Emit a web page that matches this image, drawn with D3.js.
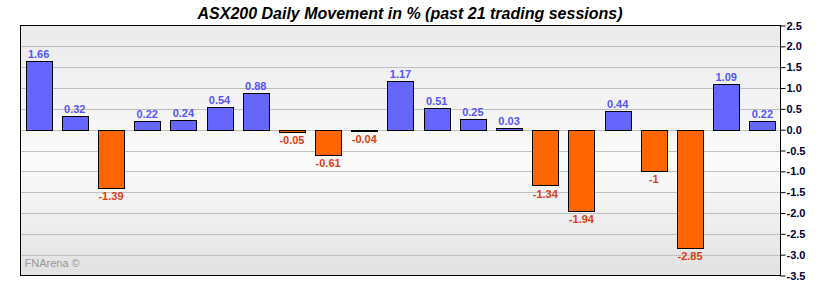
<!DOCTYPE html>
<html>
<head>
<meta charset="utf-8">
<script src="https://cdn.jsdelivr.net/npm/d3@7"></script>
<style>
  body { margin: 0; background: #fff; }
  text { font-family: "Liberation Sans", Arial, sans-serif; }
</style>
</head>
<body>
<script>
    //Data
        const sessions = d3.range(1, 22);
        const moves = [1.66, 0.32, -1.39, 0.22, 0.24, 0.54, 0.88, -0.05, -0.61, -0.04, 1.17,
                       0.51, 0.25, 0.03, -1.34, -1.94, 0.44, -1, -2.85, 1.09, 0.22];
        const tickValues = [2.5, 2.0, 1.5, 1.0, 0.5, 0.0, -0.5, -1.0, -1.5, -2.0, -2.5, -3.0, -3.5];
        const tickLabels = ["2.5", "2.0", "1.5", "1.0", "0.5", "0.0", "-0.5", "-1.0", "-1.5", "-2.0", "-2.5", "-3.0", "-3.5"];
        const title = "ASX200 Daily Movement in % (past 21 trading sessions)";

    //Set up dimensions
        const width = 820;
        const height = 290;
        const plotLeft = 20.5, plotRight = 780.5, plotTop = 25.5, plotBottom = 275.5;

    //Scales
        const xScale = d3.scaleBand()
                        .domain(sessions)
                        .range([plotLeft, plotRight])
                        .paddingInner(0.28)
                        .paddingOuter(0.14);

        const yScale = d3.scaleLinear()
                        .domain([-3.5, 2.5])
                        .range([plotBottom, plotTop]);

    //Make the SVG
        const svg = d3.select("body")
                    .append("svg")
                    .attr("width", width)
                    .attr("height", height);

        const grad = svg.append("defs")
                        .append("linearGradient")
                        .attr("id", "bg")
                        .attr("x1", 0).attr("y1", 0).attr("x2", 0).attr("y2", 1);
        grad.append("stop").attr("offset", "0%").attr("stop-color", "#eaeaea");
        grad.append("stop").attr("offset", "55%").attr("stop-color", "#fbfbfb");
        grad.append("stop").attr("offset", "100%").attr("stop-color", "#e1e1e1");

        svg.append("rect")
            .attr("x", plotLeft)
            .attr("y", plotTop)
            .attr("width", plotRight - plotLeft)
            .attr("height", plotBottom - plotTop)
            .attr("fill", "url(#bg)");

    //Gridlines
        svg.selectAll("line.grid")
            .data(tickValues.slice(1, -1))
            .enter()
            .append("line")
            .attr("class", "grid")
            .attr("x1", plotLeft)
            .attr("x2", plotRight)
            .attr("y1", d => Math.round(yScale(d)) + 0.5)
            .attr("y2", d => Math.round(yScale(d)) + 0.5)
            .attr("stroke", "#c0c0c0")
            .attr("stroke-width", 1);

    //Watermark
        svg.append("text")
            .attr("x", plotLeft + 4)
            .attr("y", plotBottom - 9)
            .attr("font-size", 11)
            .attr("fill", "#999")
            .text("FNArena \u00a9");

    //Bars
        const data = sessions.map((s, i) => ({ s: s, v: moves[i] }));

        svg.selectAll("rect.bar")
            .data(data)
            .enter()
            .append("rect")
            .attr("class", "bar")
            .attr("x", d => Math.round(xScale(d.s)) + 0.5)
            .attr("y", d => Math.round(yScale(Math.max(0, d.v))) + 0.5)
            .attr("width", Math.round(xScale.bandwidth()))
            .attr("height", d => Math.max(0, Math.round(yScale(Math.min(0, d.v))) - Math.round(yScale(Math.max(0, d.v)))))
            .attr("fill", d => d.v >= 0 ? "#6666ff" : "#ff6600")
            .attr("stroke", "#000")
            .attr("stroke-width", 1);

    //Value labels
        svg.selectAll("text.val")
            .data(data)
            .enter()
            .append("text")
            .attr("class", "val")
            .attr("x", d => xScale(d.s) + xScale.bandwidth() / 2)
            .attr("y", d => d.v >= 0 ? yScale(d.v) - 3 : yScale(d.v) + 12)
            .attr("text-anchor", "middle")
            .attr("font-size", 11)
            .attr("font-weight", "bold")
            .attr("fill", d => d.v >= 0 ? "#5555ff" : "#dd3d10")
            .text(d => String(d.v));

    //Frame
        svg.append("rect")
            .attr("x", plotLeft)
            .attr("y", plotTop)
            .attr("width", plotRight - plotLeft)
            .attr("height", plotBottom - plotTop)
            .attr("fill", "none")
            .attr("stroke", "#000")
            .attr("stroke-width", 1);

    //Right axis
        const rightAxis = d3.axisRight()
                            .scale(yScale)
                            .tickValues(tickValues)
                            .tickFormat((d, i) => tickLabels[i])
                            .tickSize(5)
                            .tickPadding(1);

        const ax = svg.append("g")
            .attr("transform", "translate(" + plotRight + ",0)")
            .call(rightAxis);
        ax.select(".domain").remove();
        ax.selectAll(".tick line").attr("stroke", "#000");
        ax.selectAll(".tick text")
            .attr("font-family", "'Liberation Sans', Arial, sans-serif")
            .attr("font-size", 11)
            .attr("font-weight", "bold")
            .attr("fill", "#000033");

    //Title
        svg.append("text")
            .attr("x", width / 2)
            .attr("y", 19)
            .attr("text-anchor", "middle")
            .attr("font-size", 16)
            .attr("font-weight", "bold")
            .attr("font-style", "italic")
            .attr("fill", "#000")
            .text(title);
</script>
</body>
</html>
